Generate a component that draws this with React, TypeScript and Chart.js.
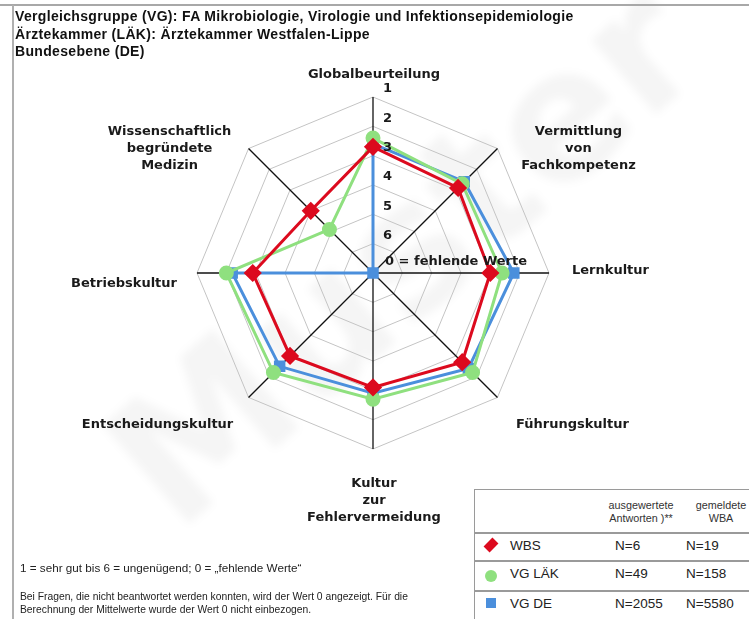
import React, { useEffect, useRef } from "react";
import { Chart, registerables } from "chart.js";

Chart.register(...registerables);

const categories: string[][] = [
  ["Globalbeurteilung"],
  ["Vermittlung", "von", "Fachkompetenz"],
  ["Lernkultur"],
  ["Führungskultur"],
  ["Kultur", "zur", "Fehlervermeidung"],
  ["Entscheidungskultur"],
  ["Betriebskultur"],
  ["Wissenschaftlich", "begründete", "Medizin"],
];

// Mean scores (1 = sehr gut ... 6 = ungenügend, 0 = fehlende Werte)
const wbsValues = [2.7, 2.9, 3.0, 2.7, 3.1, 3.0, 2.9, 4.0];
const vgLaekValues = [2.4, 2.7, 2.6, 2.2, 2.7, 2.2, 2.0, 4.9];
const vgDeValues = [2.6, 2.6, 2.2, 2.4, 2.9, 2.5, 2.2, 0];

const tickGrades = [1, 2, 3, 4, 5, 6];
const missingLabel = "0 = fehlende Werte";

const seriesNames = ["WBS", "VG LÄK", "VG DE"];
const answersN = ["N=6", "N=49", "N=2055"];
const reportedN = ["N=19", "N=158", "N=5580"];

const titleLines = [
  "Vergleichsgruppe (VG): FA Mikrobiologie, Virologie und Infektionsepidemiologie",
  "Ärztekammer (LÄK): Ärztekammer Westfalen-Lippe",
  "Bundesebene (DE)",
];

const RED = "#dc0a1e";
const GREEN = "#8fe07f";
const BLUE = "#4b8fdc";

// grade 1 is outermost, 6 next to centre, 0 at the centre
const toRadial = (v: number) => (v === 0 ? 0 : 7 - v);

// label anchor offsets relative to the end of each axis
const labelOffsets: { dx: number; dy: number; align: CanvasTextAlign }[] = [
  { dx: 1, dy: -22, align: "center" },
  { dx: 81, dy: -17, align: "center" },
  { dx: 23, dy: -2, align: "left" },
  { dx: 75, dy: 27, align: "center" },
  { dx: 1, dy: 35, align: "center" },
  { dx: -91, dy: 27, align: "center" },
  { dx: -20, dy: 11, align: "right" },
  { dx: -79, dy: -17, align: "center" },
];

const LABEL_FONT = "bold 13px 'DejaVu Sans'";

const overlayPlugin = {
  id: "overlay",
  beforeDraw(chart: any) {
    const ctx = chart.ctx as CanvasRenderingContext2D;
    // watermark
    ctx.save();
    ctx.translate(400, 250);
    ctx.rotate(-0.72);
    ctx.font = "bold 180px 'DejaVu Sans'";
    ctx.fillStyle = "rgba(0,0,0,0.04)";
    (ctx as any).filter = "blur(4px)";
    ctx.textAlign = "center";
    ctx.textBaseline = "middle";
    ctx.fillText("Muster", 0, 20);
    ctx.restore();
  },
  afterDraw(chart: any) {
    const ctx = chart.ctx as CanvasRenderingContext2D;
    const scale = chart.scales.r;
    const cx = scale.xCenter;
    const cy = scale.yCenter;
    ctx.save();
    ctx.font = LABEL_FONT;
    ctx.fillStyle = "#1a1a1a";
    ctx.textBaseline = "middle";
    // tick labels
    ctx.textAlign = "left";
    tickGrades.forEach((g) => {
      const d = scale.getDistanceFromCenterForValue(toRadial(g));
      ctx.fillText(String(g), cx + 10, cy - d - 8);
    });
    ctx.fillText(missingLabel, cx + 12, cy - 11);
    // point labels
    categories.forEach((lines, i) => {
      const p = scale.getPointPosition(i, scale.drawingArea);
      const o = labelOffsets[i];
      ctx.textAlign = o.align;
      lines.forEach((line, j) => {
        ctx.fillText(line, p.x + o.dx, p.y + o.dy + j * 17);
      });
    });
    ctx.restore();
  },
};

function Marker({ kind }: { kind: number }) {
  if (kind === 0)
    return (
      <div style={{ position: "absolute", left: 12, top: 8, width: 10, height: 10, background: RED, transform: "rotate(45deg) scale(0.85,1.25)" }} />
    );
  if (kind === 1)
    return <div style={{ position: "absolute", left: 11, top: 10, width: 12, height: 12, borderRadius: 6, background: GREEN }} />;
  return <div style={{ position: "absolute", left: 12, top: 8, width: 10, height: 10, background: BLUE }} />;
}

export default function App() {
  const ref = useRef<HTMLCanvasElement | null>(null);

  useEffect(() => {
    if (!ref.current) return;
    const mk = (label: string, values: number[], color: string, style: string, radius: number) => ({
      label,
      data: values.map(toRadial),
      borderColor: color,
      backgroundColor: color,
      pointBackgroundColor: color,
      pointBorderColor: color,
      pointStyle: style,
      pointRadius: radius,
      borderWidth: 3,
      fill: false,
      tension: 0,
    });
    const chart = new Chart(ref.current, {
      type: "radar",
      data: {
        labels: categories.map((c) => c.join(" ")),
        datasets: [
          mk(seriesNames[0], wbsValues, RED, "rectRot", 7),
          mk(seriesNames[1], vgLaekValues, GREEN, "circle", 6),
          mk(seriesNames[2], vgDeValues, BLUE, "rect", 6),
        ] as any,
      },
      options: {
        animation: false,
        responsive: false,
        maintainAspectRatio: false,
        layout: { padding: { left: 197, right: 200, top: 97, bottom: 170 } },
        plugins: { legend: { display: false }, tooltip: { enabled: false } },
        scales: {
          r: {
            min: 0,
            max: 6,
            ticks: { display: false, stepSize: 1 },
            pointLabels: { display: false },
            grid: { color: "#c4c4c4", lineWidth: 1 },
            angleLines: { color: "#111", lineWidth: 1.3 },
          },
        },
      } as any,
      plugins: [overlayPlugin],
    });
    return () => chart.destroy();
  }, []);

  const rowY = [532, 560, 590];
  return (
    <div style={{ position: "fixed", left: 0, top: 0, width: 749, height: 619, overflow: "hidden", background: "#fff", fontFamily: "'Liberation Sans', Arial, sans-serif" }}>
      <canvas ref={ref} width={749} height={619} style={{ position: "absolute", left: 0, top: 0, width: 749, height: 619 }} />
      {/* frame */}
      <div style={{ position: "absolute", left: 0, top: 4, width: 749, height: 2, background: "#a8a8a8" }} />
      <div style={{ position: "absolute", left: 12, top: 5, width: 2, height: 620, background: "#b0b0b0" }} />
      {/* title */}
      <div style={{ position: "absolute", left: 15, top: 8, fontWeight: "bold", fontSize: 14, letterSpacing: "0.33px", lineHeight: "17.5px", color: "#111", whiteSpace: "nowrap" }}>
        {titleLines.map((t, i) => (
          <div key={i}>{t}</div>
        ))}
      </div>
      {/* footnotes */}
      <div style={{ position: "absolute", left: 20, top: 561, fontSize: 11.7, color: "#222", whiteSpace: "nowrap" }}>
        1 = sehr gut bis 6 = ungenügend; 0 = „fehlende Werte“
      </div>
      <div style={{ position: "absolute", left: 20, top: 591, fontSize: 10.3, lineHeight: "12.5px", color: "#222", whiteSpace: "nowrap" }}>
        <div>Bei Fragen, die nicht beantwortet werden konnten, wird der Wert 0 angezeigt. Für die</div>
        <div>Berechnung der Mittelwerte wurde der Wert 0 nicht einbezogen.</div>
      </div>
      {/* legend table */}
      <div style={{ position: "absolute", left: 474, top: 489, width: 300, height: 140, border: "1.5px solid #9a9a9a", background: "#fff" }} />
      <div style={{ position: "absolute", left: 598, top: 499, width: 86, textAlign: "center", fontSize: 10.8, lineHeight: "13px", color: "#333" }}>
        ausgewertete
        <br />
        Antworten )**
      </div>
      <div style={{ position: "absolute", left: 689, top: 499, width: 64, textAlign: "center", fontSize: 10.8, lineHeight: "13px", color: "#333" }}>
        gemeldete
        <br />
        WBA
      </div>
      {rowY.map((y, i) => (
        <div key={i}>
          <div style={{ position: "absolute", left: 474, top: y, width: 280, height: 1.5, background: "#9a9a9a" }} />
          <div style={{ position: "absolute", left: 474, top: y, width: 275, height: y === 590 ? 29 : rowY[i + 1] - y }}>
            <Marker kind={i} />
            <div style={{ position: "absolute", left: 36, top: 6, fontSize: 13.5, color: "#222" }}>{seriesNames[i]}</div>
            <div style={{ position: "absolute", left: 141, top: 6, fontSize: 13.5, color: "#222" }}>{answersN[i]}</div>
            <div style={{ position: "absolute", left: 212, top: 6, fontSize: 13.5, color: "#222" }}>{reportedN[i]}</div>
          </div>
        </div>
      ))}
    </div>
  );
}
